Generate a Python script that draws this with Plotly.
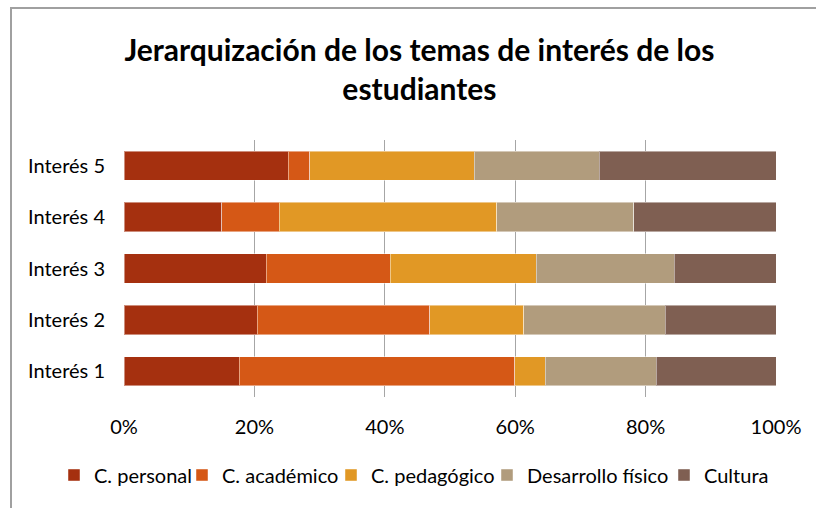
import plotly.graph_objects as go

categories = ["Interés 1", "Interés 2", "Interés 3", "Interés 4", "Interés 5"]
series_names = ["C. personal", "C. académico", "C. pedagógico", "Desarrollo físico", "Cultura"]
c_personal = [17.7, 20.4, 21.8, 15.0, 25.2]
c_academico = [42.2, 26.5, 19.0, 8.8, 3.3]
c_pedagogico = [4.7, 14.4, 22.4, 33.4, 25.2]
desarrollo_fisico = [17.0, 21.7, 21.2, 21.0, 19.2]
cultura = [18.4, 17.0, 15.6, 21.8, 27.1]
tick_values = [0, 20, 40, 60, 80, 100]
tick_labels = ["0%", "20%", "40%", "60%", "80%", "100%"]

colors = ["#A5300F", "#D55816", "#E19825", "#B19C7D", "#7F5F52"]
values = [c_personal, c_academico, c_pedagogico, desarrollo_fisico, cultura]

FONT = "Lato"
PL, PW, PT, PH = 124, 652, 140, 257  # plot area in px

# legend entry left edges (px), one legend per series
legend_left_px = [54, 182, 331, 487, 664]
legend_names = ["legend", "legend2", "legend3", "legend4", "legend5"]

fig = go.Figure()
for name, vals, col, lg in zip(series_names, values, colors, legend_names):
    fig.add_trace(go.Bar(
        y=categories, x=vals, name=name, orientation="h", legend=lg,
        showlegend=True,
        marker=dict(color=col, line=dict(color="rgba(255,255,255,0.45)", width=1)),
    ))

legend_cfg = {}
for lg, lx in zip(legend_names, legend_left_px):
    legend_cfg[lg] = dict(
        orientation="h", x=(lx - PL) / PW, xanchor="left",
        y=(PT + PH - 475) / PH, yanchor="middle",
        font=dict(family=FONT, size=20, color="#000000"), itemwidth=30,
        bgcolor="rgba(0,0,0,0)", visible=True,
    )

fig.update_layout(
    showlegend=True,
    barmode="stack",
    barnorm="percent",
    bargap=0.43,
    width=816, height=508,
    margin=dict(l=PL, r=816 - PL - PW, t=PT, b=508 - PT - PH),
    paper_bgcolor="white", plot_bgcolor="white",
    font=dict(family=FONT, size=20, color="#000000"),
    title=dict(
        text="<b>Jerarquización de los temas de interés de los<br>estudiantes</b>",
        x=0.514, xanchor="center", y=1 - 61 / 508, yanchor="middle",
        font=dict(family=FONT, size=30, color="#000000"),
    ),
    xaxis=dict(
        range=[0, 100], tickvals=tick_values, ticktext=tick_labels,
        showgrid=True, gridcolor="#A6A6A6", gridwidth=1,
        zeroline=False, showline=False, ticks="", ticklabelstandoff=16,
        tickfont=dict(family=FONT, size=20, color="#000000"),
        fixedrange=True,
    ),
    yaxis=dict(
        showgrid=False, zeroline=False, showline=False, ticks="",
        ticklabelstandoff=18, fixedrange=True,
        tickfont=dict(family=FONT, size=20, color="#000000"),
    ),
    shapes=[dict(
        type="rect", xref="paper", yref="paper",
        x0=(11 - PL) / PW, x1=(1000 - PL) / PW,
        y0=(PT + PH - 700) / PH, y1=(PT + PH - 8) / PH,
        line=dict(color="#A0A0A0", width=2), fillcolor="rgba(0,0,0,0)", layer="below",
    )],
    **legend_cfg,
)

fig.write_html("out.html")
